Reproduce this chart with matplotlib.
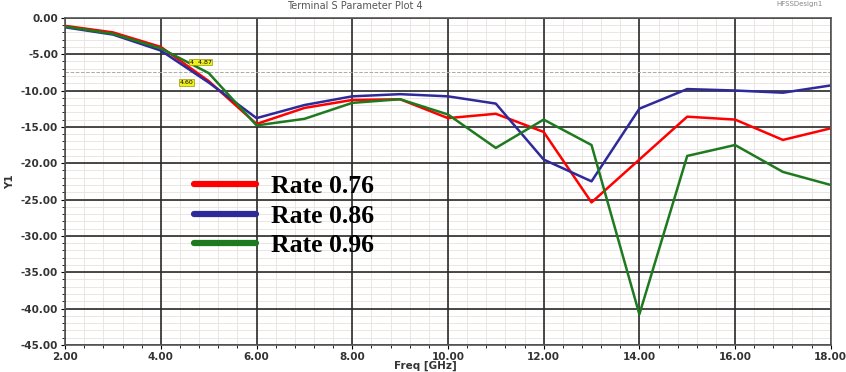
import matplotlib.pyplot as plt
from matplotlib.ticker import MultipleLocator

freq = [2, 3, 4, 5, 6, 7, 8, 9, 10, 11, 12, 13, 14, 15, 16, 17, 18]
rate_076 = [-1.1, -2.0, -4.0, -8.7, -14.6, -12.4, -11.3, -11.2, -13.8, -13.2,
            -15.7, -25.4, -19.5, -13.6, -14.0, -16.8, -15.2]
rate_086 = [-1.3, -2.3, -4.5, -8.9, -13.8, -12.0, -10.8, -10.5, -10.8, -11.8,
            -19.5, -22.5, -12.5, -9.8, -10.0, -10.3, -9.3]
rate_096 = [-1.2, -2.2, -4.2, -7.6, -14.8, -13.9, -11.7, -11.2, -13.3, -17.9,
            -14.0, -17.5, -40.8, -19.0, -17.5, -21.2, -23.0]
labels = ['Rate 0.76', 'Rate 0.86', 'Rate 0.96']
colors = ['#ff0000', '#2e2a9a', '#1e7a1e']

rect = [0.077, 0.073, 0.905, 0.879]
fig = plt.figure(figsize=(8.46, 3.72), dpi=100)

# background axes: only the light minor grid
bg = fig.add_axes(rect)
bg.set_xlim(2, 18)
bg.set_ylim(-45, 0)
bg.xaxis.set_major_locator(MultipleLocator(0.4))
bg.yaxis.set_major_locator(MultipleLocator(1))
bg.grid(color='#e8e2dc', lw=0.6)
bg.tick_params(length=0, labelleft=False, labelbottom=False)
for s in bg.spines.values():
    s.set_visible(False)

ax = fig.add_axes(rect)
ax.patch.set_alpha(0)
ax.set_xlim(2, 18)
ax.set_ylim(-45, 0)
ax.xaxis.set_major_locator(MultipleLocator(2))
ax.xaxis.set_minor_locator(MultipleLocator(0.4))
ax.yaxis.set_major_locator(MultipleLocator(5))
ax.yaxis.set_minor_locator(MultipleLocator(1))
ax.grid(which='major', color='#2a2a2a', lw=1.2)
ax.set_axisbelow(True)

ax.xaxis.set_major_formatter(lambda v, p: '%.2f' % v)
ax.yaxis.set_major_formatter(lambda v, p: '%.2f' % v)
ax.tick_params(labelsize=7.5, length=3, width=0.8, pad=2)
ax.tick_params(which='minor', length=2, width=0.6)
for t in ax.get_xticklabels() + ax.get_yticklabels():
    t.set_fontweight('bold')
    t.set_color('#333333')
for s in ax.spines.values():
    s.set_color('#555555')
    s.set_linewidth(1.2)

ax.axhline(-7.5, color='#aaaaaa', ls='--', lw=0.7, zorder=1)
ax.set_xlabel('Freq [GHz]', fontsize=7.5, fontweight='bold', labelpad=-1, x=0.47, color='#333333')
ax.set_ylabel('Y1', fontsize=7.5, fontweight='bold', labelpad=4, color='#333333')

series = [rate_076, rate_086, rate_096]
for ys, lab, c in zip(series, labels, colors):
    ax.plot(freq, ys, color=c, lw=1.8, label=lab)

# marker boxes
box = dict(boxstyle='square,pad=0.1', fc='#f0f020', ec='#999900', lw=0.5)
ax.text(4.6, -6.3, '4  4.87', fontsize=4.5, bbox=box, zorder=5)
ax.text(4.4, -9.1, '4.60', fontsize=4.5, bbox=box, zorder=5)

leg = ax.legend(loc='upper left', bbox_to_anchor=(0.152, 0.56), frameon=False,
                borderpad=0, handlelength=2.4, handletextpad=0.6, labelspacing=0.27,
                prop={'family': 'Liberation Serif', 'weight': 'bold', 'size': 18.5})
for l in leg.get_lines():
    l.set_linewidth(4.5)
    l.set_solid_capstyle('round')

fig.text(0.42, 0.985, 'Terminal S Parameter Plot 4', fontsize=7, color='#555555', ha='center', va='center')
fig.text(0.945, 0.99, 'HFSSDesign1', fontsize=5, color='#888888', ha='center', va='center')

fig.savefig('out.png', dpi=100)
